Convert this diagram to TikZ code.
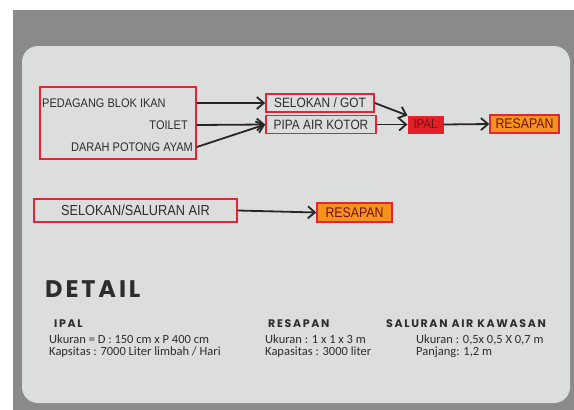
\documentclass[tikz,border=0pt]{standalone}
\usepackage{fontspec}
\setmainfont{Liberation Sans}
\newfontfamily\narrowfont[FakeStretch=0.88]{Liberation Sans}
\newfontfamily\detailfont{Carlito}
\newfontfamily\headfont[LetterSpace=15]{Poppins}
\newfontfamily\titlefont[LetterSpace=12]{Poppins}
\usetikzlibrary{arrows.meta,positioning,calc}
\definecolor{FrameGray}{RGB}{138,138,138}
\definecolor{PanelGray}{RGB}{220,222,222}
\definecolor{BoxRed}{RGB}{228,36,52}
\definecolor{IpalRed}{RGB}{226,30,38}
\definecolor{ResOrange}{RGB}{246,146,30}
\definecolor{DarkText}{RGB}{45,45,45}
\definecolor{TagText}{RGB}{110,20,15}
\tikzset{
  srcbox/.style ={rectangle, draw=BoxRed, line width=1.6pt, minimum width=156pt,
                  minimum height=72pt, inner sep=0pt},
  lbl/.style    ={font=\narrowfont\fontsize{12.5}{14}\selectfont, text=DarkText, inner sep=2pt},
  chbox/.style  ={rectangle, draw=BoxRed, line width=1.6pt, text=DarkText,
                  font=\narrowfont\fontsize{13.5}{15}\selectfont, minimum height=18pt, inner sep=1pt},
  ipalbox/.style={rectangle, draw=BoxRed, fill=IpalRed, line width=1pt, text=TagText,
                  font=\narrowfont\fontsize{13}{14}\selectfont, minimum width=35pt, minimum height=17pt, inner sep=1pt},
  resbox/.style ={rectangle, draw=BoxRed, fill=ResOrange, line width=1.4pt, text=TagText,
                  font=\narrowfont\fontsize{14}{15}\selectfont, minimum height=18pt, inner sep=1pt},
  arr/.style    ={-{Straight Barb[length=7pt,width=12pt]}, draw=black!85, line width=1.8pt},
  dhead/.style  ={font=\headfont\bfseries\fontsize{11}{12}\selectfont, text=DarkText,
                  anchor=base west, inner sep=0pt},
  dtext/.style  ={font=\detailfont\fontsize{12.5}{14}\selectfont, text=DarkText,
                  anchor=base west, inner sep=0pt},
}
\begin{document}
\begin{tikzpicture}[x=1pt,y=-1pt]
  \useasboundingbox (0,0) rectangle (574,410);
  \fill[FrameGray] (13,10) rectangle (574,410);
  \fill[PanelGray,rounded corners=16pt] (22,46) rectangle (570,403);

  % sources
  \node[srcbox] (src) at (118,123) {};
  \node[lbl,anchor=west] (pedagang) at (40,103) {PEDAGANG BLOK IKAN};
  \node[lbl,anchor=east] (toilet) at (190,125) {TOILET};
  \node[lbl,anchor=east] (darah) at (195,147) {DARAH POTONG AYAM};

  % channels
  \node[chbox,minimum width=108pt] (selokan) at (320,103) {SELOKAN / GOT};
  \node[chbox,minimum width=110pt] (pipa) at (321,124.5) {PIPA AIR KOTOR};
  \node[ipalbox] (ipal) at (425.5,124.5) {IPAL};
  \node[resbox,minimum width=69pt] (res1) at (524.5,124) {RESAPAN};

  \node[chbox,font=\narrowfont\fontsize{14.5}{16}\selectfont,minimum width=203pt,minimum height=23pt]
    (saluran) at (135.5,210.5) {SELOKAN/SALURAN AIR};
  \node[resbox,minimum width=75pt,minimum height=19pt] (res2) at (354.5,212.5) {RESAPAN};

  \draw[arr] (src.east |- pedagang) -- (selokan.west);
  \draw[arr] (src.east |- toilet) -- (pipa.west);
  \draw[arr] (src.east |- darah) -- (pipa.west);
  \draw[arr] (selokan.east) -- (ipal.north west);
  \draw[arr] (pipa.east) -- (ipal.west);
  \draw[arr] (ipal.east) -- (res1.west);
  \draw[arr] (saluran.east) -- (res2.west);

  % detail
  \node[font=\titlefont\bfseries\fontsize{24}{26}\selectfont,text=DarkText,anchor=base west,inner sep=0pt]
    (detail) at (45,297) {DETAIL};

  \node[dhead] (hipal) at (54,327.5) {IPAL};
  \node[dtext] (ipal1) at (49,343.5) {Ukuran = D : 150 cm x P 400 cm};
  \node[dtext] (ipal2) at (49,355.5) {Kapsitas : 7000 Liter limbah / Hari};

  \node[dhead] (hres) at (268,327.5) {RESAPAN};
  \node[dtext] (res1a) at (265,343.5) {Ukuran : 1 x 1 x 3 m};
  \node[dtext] (res1b) at (265,355.5) {Kapasitas : 3000 liter};

  \node[dhead] (hsal) at (386,327.5) {SALURAN AIR KAWASAN};
  \node[dtext] (sal1) at (416,343.5) {Ukuran : 0,5x 0,5 X 0,7 m};
  \node[dtext] (sal2) at (416,355.5) {Panjang: 1,2 m};
\end{tikzpicture}
\end{document}
